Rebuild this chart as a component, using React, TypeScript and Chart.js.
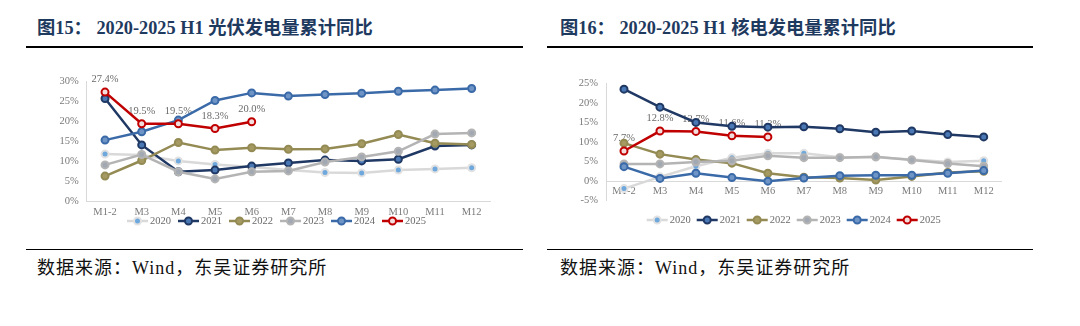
import React, { useEffect, useRef } from "react";
import { Chart, registerables } from "chart.js";
Chart.register(...registerables);

const months = ["M1-2", "M3", "M4", "M5", "M6", "M7", "M8", "M9", "M10", "M11", "M12"];
const years = ["2020", "2021", "2022", "2023", "2024", "2025"];

// 光伏发电量累计同比 (%)
const pv2020 = [11.9, 11.7, 10.2, 9.3, 8.7, 7.9, 7.3, 7.2, 7.9, 8.2, 8.5];
const pv2021 = [25.8, 14.2, 7.5, 7.9, 8.9, 9.7, 10.4, 10.2, 10.6, 13.9, 14.2];
const pv2022 = [6.4, 10.3, 14.8, 12.9, 13.5, 13.1, 13.2, 14.5, 16.8, 14.6, 14.3];
const pv2023 = [9.2, 11.8, 7.5, 5.7, 7.5, 7.7, 9.9, 11.2, 12.6, 16.9, 17.2];
const pv2024 = [15.4, 17.5, 20.4, 25.3, 27.2, 26.4, 26.8, 27.1, 27.6, 27.9, 28.3];
const pv2025 = [27.4, 19.5, 19.5, 18.3, 20.0];

// 核电发电量累计同比 (%)
const nu2020 = [-1.9, 1.1, 3.8, 6.0, 7.1, 7.1, 6.1, 6.1, 5.5, 4.9, 5.2];
const nu2021 = [23.5, 18.9, 15.0, 14.0, 13.8, 13.9, 13.4, 12.5, 12.8, 11.9, 11.3];
const nu2022 = [9.7, 6.9, 5.5, 4.6, 2.0, 1.0, 0.8, 0.3, 1.2, 2.2, 2.5];
const nu2023 = [4.4, 4.4, 4.9, 5.2, 6.5, 6.0, 6.0, 6.2, 5.4, 4.5, 3.8];
const nu2024 = [3.7, 0.7, 2.0, 0.9, 0.0, 0.8, 1.4, 1.5, 1.5, 2.0, 2.7];
const nu2025 = [7.7, 12.8, 12.7, 11.6, 11.3];

const pvTicks = { min: 0, max: 30, step: 5 };
const nuTicks = { min: -5, max: 25, step: 5 };

const lineColors = ["#d9d9d9", "#1f3864", "#948a54", "#b4b4b4", "#3b6aa8", "#c00000"];
const pointFills = ["#6fa8dc", "#4a78b5", "#a59b62", "#a2a9b3", "#6f95c6", "#f3dede"];
const pointBorders = ["#e2e2e2", "#1f3864", "#948a54", "#b4b4b4", "#3b6aa8", "#c00000"];

const FONT = "'Liberation Serif', 'Times New Roman', serif";
const CJK = "'Liberation Serif', 'Noto Sans CJK SC', serif";

type Cfg = {
  series: number[][];
  tick: { min: number; max: number; step: number };
  pad: { left: number; right: number; top: number; bottom: number };
  yWidth: number;
  xAtZero: boolean;
  legend: { x: number; y: number; gap: number };
  width: number;
  height: number;
};

function makeDatasets(series: number[][]) {
  return series.map((d, i) => ({
    label: years[i],
    data: d,
    borderColor: lineColors[i],
    backgroundColor: lineColors[i],
    borderWidth: 2.5,
    pointRadius: 3.5,
    pointBorderWidth: 2,
    pointBackgroundColor: pointFills[i],
    pointBorderColor: pointBorders[i],
    tension: 0,
    order: 5 - i,
  }));
}

const labelPlugin = {
  id: "labels2025",
  beforeDatasetsDraw(chart: any) {
    const ctx = chart.ctx;
    const meta = chart.getDatasetMeta(5);
    const data = chart.data.datasets[5].data;
    ctx.save();
    ctx.font = `10.5px ${FONT}`;
    ctx.fillStyle = "#6b6b6b";
    ctx.textAlign = "center";
    ctx.textBaseline = "middle";
    meta.data.forEach((pt: any, i: number) => {
      const v = data[i];
      if (v == null) return;
      ctx.fillText(v.toFixed(1) + "%", pt.x, pt.y - 12.5);
    });
    ctx.restore();
  },
};

const legendPlugin = {
  id: "customLegend",
  afterDraw(chart: any) {
    const o = chart.options.plugins.customLegend;
    const ctx = chart.ctx;
    ctx.save();
    chart.data.datasets.forEach((ds: any, i: number) => {
      const x = o.x + i * o.gap;
      const y = o.y;
      ctx.strokeStyle = ds.borderColor;
      ctx.lineWidth = 2.5;
      ctx.beginPath();
      ctx.moveTo(x, y);
      ctx.lineTo(x + 21, y);
      ctx.stroke();
      ctx.beginPath();
      ctx.arc(x + 10.5, y, 3.5, 0, Math.PI * 2);
      ctx.fillStyle = ds.pointBackgroundColor;
      ctx.fill();
      ctx.lineWidth = 2;
      ctx.strokeStyle = ds.pointBorderColor;
      ctx.stroke();
      ctx.font = `10.5px ${FONT}`;
      ctx.fillStyle = "#6b6b6b";
      ctx.textAlign = "left";
      ctx.textBaseline = "middle";
      ctx.fillText(ds.label, x + 23, y + 0.5);
    });
    ctx.restore();
  },
};

function LineChart({ cfg, style }: { cfg: Cfg; style: React.CSSProperties }) {
  const ref = useRef<HTMLCanvasElement>(null);
  useEffect(() => {
    if (!ref.current) return;
    const chart = new Chart(ref.current, {
      type: "line",
      data: { labels: months, datasets: makeDatasets(cfg.series) as any },
      options: {
        animation: false,
        responsive: false,
        devicePixelRatio: 1,
        layout: { padding: cfg.pad },
        plugins: {
          legend: { display: false },
          tooltip: { enabled: false },
          customLegend: cfg.legend,
        } as any,
        scales: {
          x: {
            type: "category",
            position: cfg.xAtZero ? ({ y: 0 } as any) : "bottom",
            offset: true,
            grid: { display: false, drawTicks: false },
            border: { display: true, color: "#d9d9d9", width: 1 },
            ticks: {
              color: "#7a7a7a",
              font: { family: FONT, size: 10.5 },
              padding: 4,
              maxRotation: 0,
              autoSkip: false,
            },
            afterFit: (s: any) => {
              if (!cfg.xAtZero) s.height = 20;
            },
          },
          y: {
            min: cfg.tick.min,
            max: cfg.tick.max,
            grid: { display: false, drawTicks: false },
            border: { display: true, color: "#d9d9d9", width: 1 },
            ticks: {
              stepSize: cfg.tick.step,
              color: "#7a7a7a",
              font: { family: FONT, size: 10.5 },
              padding: 8,
              callback: (v: any) => v + "%",
            },
            afterFit: (s: any) => {
              s.width = cfg.yWidth;
            },
          },
        },
      },
      plugins: [labelPlugin, legendPlugin],
    });
    return () => chart.destroy();
  }, []);
  return <canvas ref={ref} width={cfg.width} height={cfg.height} style={{ position: "absolute", ...style }} />;
}

const pvCfg: Cfg = {
  series: [pv2020, pv2021, pv2022, pv2023, pv2024, pv2025],
  tick: pvTicks,
  pad: { left: 0, right: 35, top: 21.7, bottom: 18.3 },
  yWidth: 56.7,
  xAtZero: false,
  legend: { x: 97, y: 161, gap: 51 },
  width: 495,
  height: 180,
};

const nuCfg: Cfg = {
  series: [nu2020, nu2021, nu2022, nu2023, nu2024, nu2025],
  tick: nuTicks,
  pad: { left: 0, right: 28.3, top: 23.3, bottom: 39.3 },
  yWidth: 56,
  xAtZero: true,
  legend: { x: 96.7, y: 160, gap: 50 },
  width: 480,
  height: 180,
};

const titleStyle: React.CSSProperties = {
  position: "absolute",
  top: 17,
  fontFamily: "'Liberation Serif', 'Noto Sans CJK SC', serif",
  fontWeight: 700,
  fontSize: 18.3,
  color: "#1f3a5f",
  whiteSpace: "pre",
  lineHeight: "22px",
};
const srcStyle: React.CSSProperties = {
  position: "absolute",
  top: 256,
  fontFamily: CJK,
  fontSize: 18,
  letterSpacing: 1,
  color: "#111",
  whiteSpace: "nowrap",
  lineHeight: "24px",
};
const rule = (left: number, top: number, width: number, h: number): React.CSSProperties => ({
  position: "absolute",
  left,
  top,
  width,
  height: h,
  background: "#000",
});

export default function App() {
  return (
    <div style={{ position: "fixed", left: 0, top: 0, width: 1080, height: 326, background: "#fff", overflow: "hidden" }}>
      <div style={{ ...titleStyle, left: 37 }}>图15： 2020-2025 H1 光伏发电量累计同比</div>
      <div style={{ ...titleStyle, left: 560 }}>图16： 2020-2025 H1 核电发电量累计同比</div>
      <div style={rule(26, 45.5, 497, 2.2)} />
      <div style={rule(547, 45.5, 486, 2.2)} />
      <LineChart cfg={pvCfg} style={{ left: 30, top: 60 }} />
      <LineChart cfg={nuCfg} style={{ left: 550, top: 60 }} />
      <div style={rule(26, 248.5, 497, 1.8)} />
      <div style={rule(547, 248.5, 486, 1.8)} />
      <div style={{ ...srcStyle, left: 37 }}>数据来源：Wind，东吴证券研究所</div>
      <div style={{ ...srcStyle, left: 560 }}>数据来源：Wind，东吴证券研究所</div>
    </div>
  );
}
